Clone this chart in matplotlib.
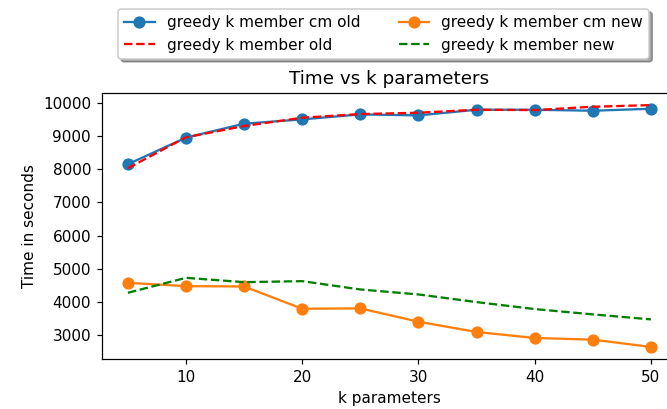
import matplotlib
matplotlib.use('Agg')
import matplotlib.pyplot as plt

k = [5, 10, 15, 20, 25, 30, 35, 40, 45, 50]
cm_old = [8150, 8950, 9370, 9500, 9650, 9620, 9790, 9790, 9760, 9820]
cm_new = [4580, 4480, 4470, 3800, 3810, 3410, 3100, 2920, 2870, 2650]
old = [8030, 8960, 9300, 9550, 9660, 9700, 9790, 9780, 9880, 9930]
new = [4280, 4730, 4600, 4630, 4380, 4230, 4000, 3790, 3630, 3480]
yticks = [3000, 4000, 5000, 6000, 7000, 8000, 9000, 10000]

dpi = 110
fig = plt.figure(figsize=(667 / dpi, 409 / dpi), dpi=dpi)
# right edge of the axes is cut off in the original image
ax = fig.add_axes([0.1525, 0.1222, 0.8625, 0.6504])

ax.plot(k, cm_old, marker='o', markersize=7, label='greedy k member cm old')
ax.plot(k, old, 'r--', label='greedy k member old')
ax.plot(k, cm_new, marker='o', markersize=7, label='greedy k member cm new')
ax.plot(k, new, 'g--', label='greedy k member new')

ax.set_title('Time vs k parameters')
ax.set_xlabel('k parameters')
ax.set_ylabel('Time in seconds')
ax.set_xticks([10, 20, 30, 40, 50])
ax.set_yticks(yticks)

ax.legend(loc='lower center', bbox_to_anchor=(0.49, 1.1), ncol=2, shadow=True,
          columnspacing=2.5)

fig.savefig('out.png', dpi=dpi)
